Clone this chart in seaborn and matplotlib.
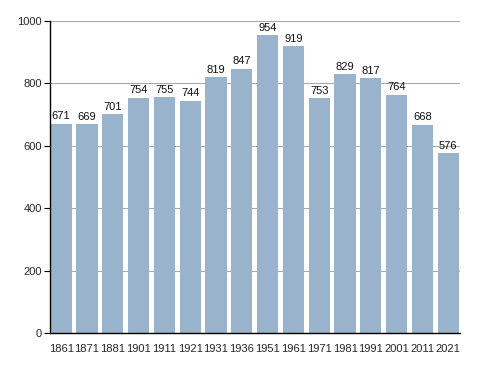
import matplotlib.pyplot as plt
import seaborn as sns
import pandas as pd

years = ['1861', '1871', '1881', '1901', '1911', '1921', '1931', '1936',
         '1951', '1961', '1971', '1981', '1991', '2001', '2011', '2021']
population = [671, 669, 701, 754, 755, 744, 819, 847,
              954, 919, 753, 829, 817, 764, 668, 576]

df = pd.DataFrame({'year': years, 'population': population})

sns.set_theme(style="white")
plt.rcParams['font.family'] = ['Liberation Sans', 'DejaVu Sans']

fig = plt.figure(figsize=(4.88, 3.73), dpi=100)
ax = fig.add_axes([0.1025, 0.107, 0.84, 0.837])

sns.barplot(data=df, x='year', y='population', color='#9ab3cd',
            saturation=1, width=0.82, linewidth=0, edgecolor='none', ax=ax)

for i, v in enumerate(population):
    ax.text(i, v + 8, str(v), ha='center', va='bottom', fontsize=8, color='#111111')

ax.set_ylim(0, 1000)
ax.set_xlim(-0.43, 15.45)
ax.set_yticks(range(0, 1001, 200))
ax.yaxis.grid(True, color='#aaaaaa', linewidth=0.8)
ax.set_axisbelow(True)
ax.set_xlabel('')
ax.set_ylabel('')

for side in ['top', 'right']:
    ax.spines[side].set_visible(False)
for side in ['left', 'bottom']:
    ax.spines[side].set_color('black')
    ax.spines[side].set_linewidth(1.0)

ax.tick_params(axis='y', left=True, length=4, width=0.8, color='black',
               labelsize=8, pad=2)
ax.tick_params(axis='x', bottom=False, labelsize=8, pad=2)

plt.savefig('out.png', dpi=100)
plt.close()
